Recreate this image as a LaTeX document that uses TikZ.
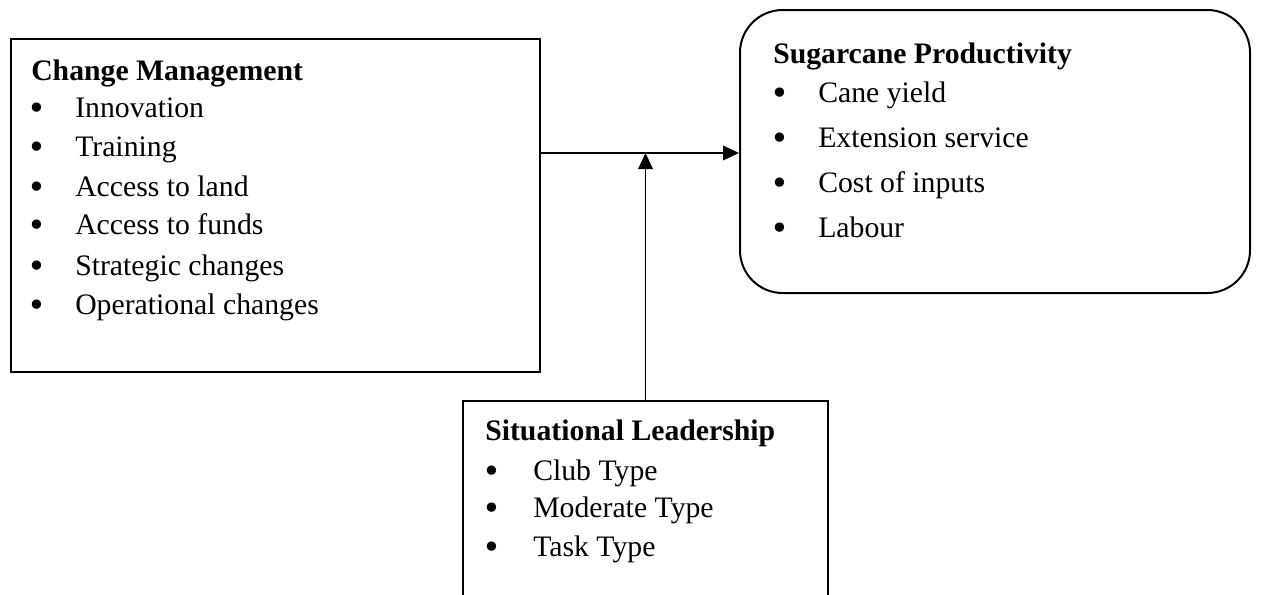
\documentclass[tikz,border=0pt]{standalone}
\usepackage{fontspec}
\setmainfont{Liberation Serif}
\newfontfamily\bulfont{DejaVu Sans}
\usetikzlibrary{arrows.meta}
\begin{document}
\begin{tikzpicture}[x=0.75pt,y=-0.75pt,
  box/.style={draw=black,line width=1.5pt,minimum width=#1,inner sep=0pt},
  txt/.style={anchor=base west,inner sep=0pt,font=\fontsize{22.3pt}{27pt}\selectfont},
  head/.style={txt,font=\fontsize{22.3pt}{27pt}\selectfont\bfseries},
  bul/.style={anchor=base,inner sep=0pt,yshift=-2pt,font=\bulfont\fontsize{24pt}{26pt}\selectfont},
  arr/.style={line width=0.9pt,-{Triangle[length=12pt,width=11pt]}}]
\clip (0,0) rectangle (1282,594);
% boxes
\node[box=396.75pt,minimum height=249.75pt] (cm) at (275.5,205.5) {};
\node[box=382.5pt,minimum height=212.25pt,rounded corners=32pt] (sp) at (995,151.5) {};
\node[box=273.75pt,minimum height=178.5pt] (sl) at (645.5,520) {};
% change management text
\node[head] (cmh) at (31,80) {Change Management};
\foreach \t/\y [count=\i] in {Innovation/117,Training/156,Access to land/196,Access to funds/234,Strategic changes/275,Operational changes/314}{
  \node[bul] (cmb\i) at (37,\y) {•};
  \node[txt] (cmt\i) at (75,\y) {\t};
}
% sugarcane text
\node[head] (sph) at (773,63) {Sugarcane Productivity};
\foreach \t/\y [count=\i] in {Cane yield/102,Extension service/147,Cost of inputs/192,Labour/237}{
  \node[bul] (spb\i) at (780,\y) {•};
  \node[txt] (spt\i) at (818,\y) {\t};
}
% situational leadership text
\node[head] (slh) at (485,440) {Situational Leadership};
\foreach \t/\y [count=\i] in {Club Type/480,Moderate Type/517,Task Type/556}{
  \node[bul] (slb\i) at (492,\y) {•};
  \node[txt] (slt\i) at (533,\y) {\t};
}
% connectors
\coordinate (hy) at (0,153);
\draw[arr] (cm.east |- hy) -- (sp.west |- hy);
\draw[arr] (sl.north) -- (sl.north |- hy);
\end{tikzpicture}
\end{document}
